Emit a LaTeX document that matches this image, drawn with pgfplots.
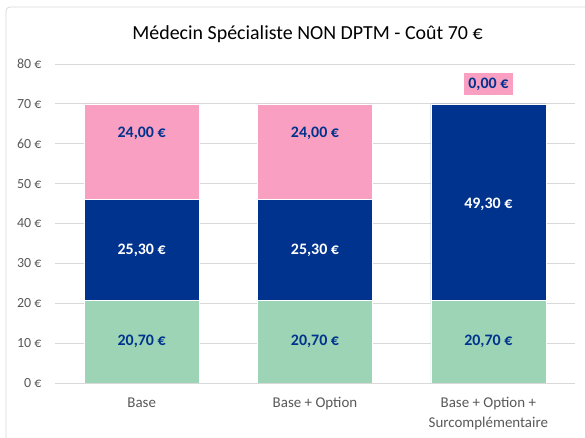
\documentclass[border=0pt]{standalone}
\usepackage{fontspec}
\setmainfont{Carlito}
\usepackage{pgfplots}
\pgfplotsset{compat=1.18}

\definecolor{vert}{HTML}{9DD4B6}
\definecolor{bleu}{HTML}{00338D}
\definecolor{rose}{HTML}{F99FC1}
\definecolor{grille}{HTML}{D9D9D9}
\definecolor{texte}{HTML}{595959}

\begin{document}
\begin{tikzpicture}
\path[use as bounding box, fill=white] (0,0) rectangle (585bp,438bp);
\draw[grille, line width=0.8bp, rounded corners=4bp] (6bp,-10bp) |- (600bp,431bp);

\node[anchor=base, font=\fontsize{20}{24}\selectfont, text=black] at (307.5bp,398bp)
  {Médecin Spécialiste NON DPTM - Coût 70 €};

% barres empilées
\begin{axis}[
  at={(55bp,55bp)}, anchor=south west,
  scale only axis, width=520bp, height=319bp,
  ybar stacked, bar width=115bp,
  xmin=-0.5, xmax=2.5, ymin=0, ymax=80,
  xtick={0,1,2},
  xticklabels={Base, Base + Option, {Base + Option +\\Surcomplémentaire}},
  ytick={0,10,...,80},
  yticklabels={0 €,10 €,20 €,30 €,40 €,50 €,60 €,70 €,80 €},
  major tick length=0pt,
  axis line style={draw=none},
  ymajorgrids, grid style={grille, line width=0.8bp},
  tick label style={text=texte},
  yticklabel style={font=\fontsize{14}{16}\selectfont, anchor=east, xshift=-10bp},
  xticklabel style={font=\fontsize{15}{20}\selectfont, align=center, yshift=-11bp},
]
  \addplot[fill=vert, draw=white, line width=0.4bp] coordinates {(0,20.7) (1,20.7) (2,20.7)};
  \addplot[fill=bleu, draw=white, line width=0.4bp] coordinates {(0,25.3) (1,25.3) (2,49.3)};
  \addplot[fill=rose, draw=white, line width=0.4bp] coordinates {(0,24.0) (1,24.0) (2,0)};
\end{axis}

% étiquettes de données
\begin{axis}[
  at={(55bp,55bp)}, anchor=south west,
  scale only axis, width=520bp, height=319bp,
  xmin=-0.5, xmax=2.5, ymin=0, ymax=80,
  hide axis,
  nodes near coords, point meta=explicit symbolic,
  nodes near coords align=center,
  every node near coord/.style={anchor=center, font=\fontsize{16}{18}\selectfont\bfseries},
]
  \addplot[draw=none, mark=none, every node near coord/.append style={text=bleu}]
    table[meta=lab] {
      x y lab
      0 10.35 {20,70 €}
      1 10.35 {20,70 €}
      2 10.35 {20,70 €}
      0 62.7 {24,00 €}
      1 62.7 {24,00 €}
    };
  \addplot[draw=none, mark=none, every node near coord/.append style={text=white}]
    table[meta=lab] {
      x y lab
      0 33.35 {25,30 €}
      1 33.35 {25,30 €}
      2 44.9 {49,30 €}
    };
  \addplot[draw=none, mark=none, every node near coord/.append style={text=bleu, fill=rose, inner xsep=4.5bp, inner ysep=5bp}]
    table[meta=lab] {
      x y lab
      2 75.0 {0,00 €}
    };
\end{axis}
\end{tikzpicture}
\end{document}
